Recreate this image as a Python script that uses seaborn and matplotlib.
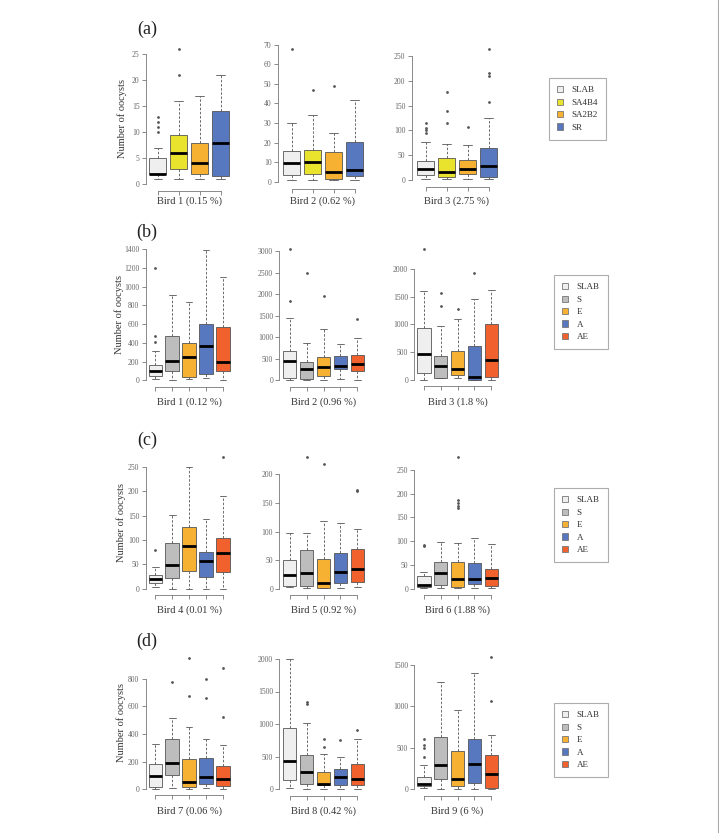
import numpy as np
import pandas as pd
import matplotlib.pyplot as plt
import seaborn as sns
from matplotlib.patches import Patch
from matplotlib.lines import Line2D

sns.set_style("ticks")
plt.rcParams['font.family'] = ['Liberation Serif', 'DejaVu Serif']

W, H = 719, 833

groups_a = ['SLAB', 'SA4B4', 'SA2B2', 'SR']
groups_bcd = ['SLAB', 'S', 'E', 'A', 'AE']
colors_a = {'SLAB': '#EFEFEF', 'SA4B4': '#EAE32E', 'SA2B2': '#F6B133', 'SR': '#5777BF'}
colors_bcd = {'SLAB': '#EFEFEF', 'S': '#BDBDBD', 'E': '#F6B133', 'A': '#5777BF', 'AE': '#F1612D'}

# box summaries per group: [low whisker, Q1, median, Q3, high whisker]; outliers separately
bird1a_box = [[1, 2, 2, 5, 7], [1, 3, 6, 9.5, 16], [1, 2, 4, 8, 17], [1, 1.5, 8, 14, 21]]
bird1a_out = [[10, 11, 12, 13], [21, 26], [], []]
bird2a_box = [[1, 3.5, 9.5, 15.5, 30], [1, 4, 10, 16, 34], [1, 1.5, 5, 15, 25], [1, 3, 6, 20.5, 42]]
bird2a_out = [[68], [47], [49], []]
bird3a_box = [[2, 11, 22, 38, 76], [2, 7, 17, 45, 73], [2, 12, 22, 41, 71], [2, 6, 29, 65, 126]]
bird3a_out = [[95, 100, 105, 115], [114, 140, 177], [106], [158, 210, 215, 264]]

bird1b_box = [[10, 46, 100, 160, 316], [0, 96, 206, 469, 906], [10, 39, 249, 402, 832],
              [28, 71, 363, 604, 1393], [0, 103, 192, 565, 1102]]
bird1b_out = [[412, 469, 1200], [], [], [], []]
bird2b_box = [[0, 47, 442, 690, 1457], [0, 31, 256, 434, 876], [0, 93, 318, 550, 1186],
              [31, 264, 341, 558, 837], [8, 217, 388, 597, 977]]
bird2b_out = [[1837, 3047], [2488], [1953], [], [1419]]
bird3b_box = [[0, 131, 466, 931, 1606], [36, 48, 257, 436, 967], [36, 101, 203, 525, 1104],
              [0, 2, 66, 615, 1463], [0, 54, 364, 1015, 1612]]
bird3b_out = [[2346], [1325, 1558], [1284], [1922], []]

bird4_box = [[3, 12, 20, 29, 45], [0, 23, 49, 94, 152], [0, 36, 88, 127, 250],
             [0, 25, 56, 75, 143], [0, 34, 73, 105, 191]]
bird4_out = [[80], [], [], [], [270]]
bird5_box = [[3, 6, 25, 51, 97], [1, 5, 28, 67, 97], [1, 2, 10, 52, 119],
             [1, 10, 29, 63, 115], [3, 13, 34, 70, 105]]
bird5_out = [[], [229], [218], [], [171, 173]]
bird6_box = [[1.4, 3, 8, 27, 36], [1.4, 7, 34, 57, 99], [1.4, 3, 20, 57, 97],
             [1.4, 10, 20, 53, 107], [1.4, 5, 22, 42, 93]]
bird6_out = [[90, 92], [], [169, 174, 180, 186, 277], [], []]

bird7_box = [[5, 19, 96, 183, 325], [10, 104, 193, 364, 516], [5, 17, 53, 217, 453],
             [10, 39, 87, 229, 366], [0, 24, 72, 171, 323]]
bird7_out = [[], [776], [672, 947], [658, 795], [521, 880]]
bird8_box = [[10, 133, 431, 933, 2000], [0, 72, 262, 518, 1020], [0, 56, 82, 256, 533],
             [0, 56, 190, 313, 497], [0, 67, 154, 385, 774]]
bird8_out = [[], [1310, 1340], [646, 774], [749], [913]]
bird9_box = [[8, 40, 64, 141, 294], [0, 117, 285, 623, 1287], [0, 32, 117, 458, 953],
             [0, 68, 306, 599, 1395], [0, 16, 181, 414, 652]]
bird9_out = [[386, 495, 530, 600], [], [], [], [1062, 1593]]

labels = [['Bird 1 (0.15 %)', 'Bird 2 (0.62 %)', 'Bird 3 (2.75 %)'],
          ['Bird 1 (0.12 %)', 'Bird 2 (0.96 %)', 'Bird 3 (1.8 %)'],
          ['Bird 4 (0.01 %)', 'Bird 5 (0.92 %)', 'Bird 6 (1.88 %)'],
          ['Bird 7 (0.06 %)', 'Bird 8 (0.42 %)', 'Bird 9 (6 %)']]
tags = ['(a)', '(b)', '(c)', '(d)']
y_tops = [[25, 70, 250], [1400, 3000, 2000], [250, 200, 250], [800, 2000, 1500]]
y_steps = [[5, 10, 50], [200, 500, 500], [50, 50, 50], [200, 500, 500]]

panels = [[(bird1a_box, bird1a_out), (bird2a_box, bird2a_out), (bird3a_box, bird3a_out)],
          [(bird1b_box, bird1b_out), (bird2b_box, bird2b_out), (bird3b_box, bird3b_out)],
          [(bird4_box, bird4_out), (bird5_box, bird5_out), (bird6_box, bird6_out)],
          [(bird7_box, bird7_out), (bird8_box, bird8_out), (bird9_box, bird9_out)]]

# layout in pixels
spine_x = [[146, 277.7, 411.7]] + [[145.5, 279.3, 414.3]] * 3
first_c = [[157.7, 291.5, 425.5]] + [[155.3, 289.7, 423.8]] * 3
spacing = [21, 16.9, 16.9, 16.9]
y_zero = [[184.3, 181.7, 180.3], [380.3, 380.3, 380.3], [588.7, 589, 588.7], [789.3, 789, 789]]
y_toppx = [[54, 44.7, 55.7], [249, 251.3, 268.7], [467, 474, 469.7], [678.7, 659, 664.7]]
label_y = [201, 402, 610, 811]
ylab_x = [122, 119, 121, 121]
ylab_y = [119, 314, 522, 723]
tag_y = [29, 232, 440, 641]
legend_xy = [(549, 78), (554, 275), (554, 488), (554, 703)]

fig = plt.figure(figsize=(W / 100, H / 100), dpi=100)

for r in range(4):
    groups = groups_a if r == 0 else groups_bcd
    colors = colors_a if r == 0 else colors_bcd
    n = len(groups)
    for c in range(3):
        box, out = panels[r][c]
        bdf = pd.DataFrame([(g, v) for g, vals in zip(groups, box) for v in vals], columns=['group', 'value'])
        odf = pd.DataFrame([(g, v) for g, vals in zip(groups, out) for v in vals], columns=['group', 'value'])
        top = y_tops[r][c]
        ymax = max(top, max([v for o in out for v in o] + [0]))
        ppu = (y_zero[r][c] - y_toppx[r][c]) / top
        lo = -0.03 * top
        hi = ymax + 0.03 * top
        sp = spacing[r]
        gap = (first_c[r][c] - spine_x[r][c]) / sp
        x_hi = n - 1 + 0.55
        rect = [spine_x[r][c] / W, 1 - (y_zero[r][c] - lo * ppu) / H,
                (x_hi + gap) * sp / W, (hi - lo) * ppu / H]
        ax = fig.add_axes(rect)
        sns.boxplot(data=bdf, x='group', y='value', hue='group', order=groups, hue_order=groups,
                    palette=colors, legend=False, whis=(0, 100), width=0.8, saturation=1,
                    linecolor='#555555', linewidth=0.6, showfliers=False,
                    medianprops=dict(color='black', linewidth=2),
                    whiskerprops=dict(linestyle=(0, (3, 2))), ax=ax)
        if len(odf):
            sns.stripplot(data=odf, x='group', y='value', order=groups, jitter=False,
                          color='#555555', size=2, ax=ax)
        ax.set_xlim(-gap, x_hi)
        ax.set_ylim(lo, hi)
        ax.set_yticks(np.arange(0, top + 1e-9, y_steps[r][c]))
        ax.set_xticks(range(n))
        ax.set_xticklabels([])
        ax.set_xlabel('')
        ax.set_ylabel('')
        for lab in ax.get_yticklabels():
            lab.set_fontfamily('Liberation Sans')
        ax.tick_params(axis='both', length=3, width=0.6, color='#777777',
                       labelsize=5.5, labelcolor='#666666', pad=1.5)
        sns.despine(ax=ax, trim=True, offset=dict(left=0, bottom=2))
        for s in ['left', 'bottom']:
            ax.spines[s].set_color('#777777')
            ax.spines[s].set_linewidth(0.6)
        ax.patch.set_alpha(0)
        cx = first_c[r][c] + (n - 1) * sp / 2
        fig.text(cx / W, 1 - label_y[r] / H, labels[r][c], ha='center', va='center',
                 fontsize=7.5, color='#333333')

    fig.text(ylab_x[r] / W, 1 - ylab_y[r] / H, 'Number of oocysts', rotation=90,
             ha='center', va='center', fontsize=7.5, color='#333333')
    fig.text(147 / W, 1 - tag_y[r] / H, tags[r], ha='center', va='center',
             fontsize=13, color='#222222')
    handles = [Patch(facecolor=colors[g], edgecolor='#777777', linewidth=0.6) for g in groups]
    lx, ly = legend_xy[r]
    leg = fig.legend(handles, groups, loc='upper left', bbox_to_anchor=(lx / W, 1 - ly / H),
                     fontsize=6.5, frameon=True, fancybox=False, edgecolor='#999999',
                     handlelength=0.7, handleheight=0.7, labelspacing=0.45,
                     borderpad=0.9, handletextpad=0.9, borderaxespad=0)
    leg.get_frame().set_linewidth(0.8)
    for t in leg.get_texts():
        t.set_color('#333333')

fig.add_artist(Line2D([717.5 / W, 717.5 / W], [0, 1], color='#aaaaaa', lw=0.8))

fig.savefig('out.png', dpi=100, facecolor='white')
